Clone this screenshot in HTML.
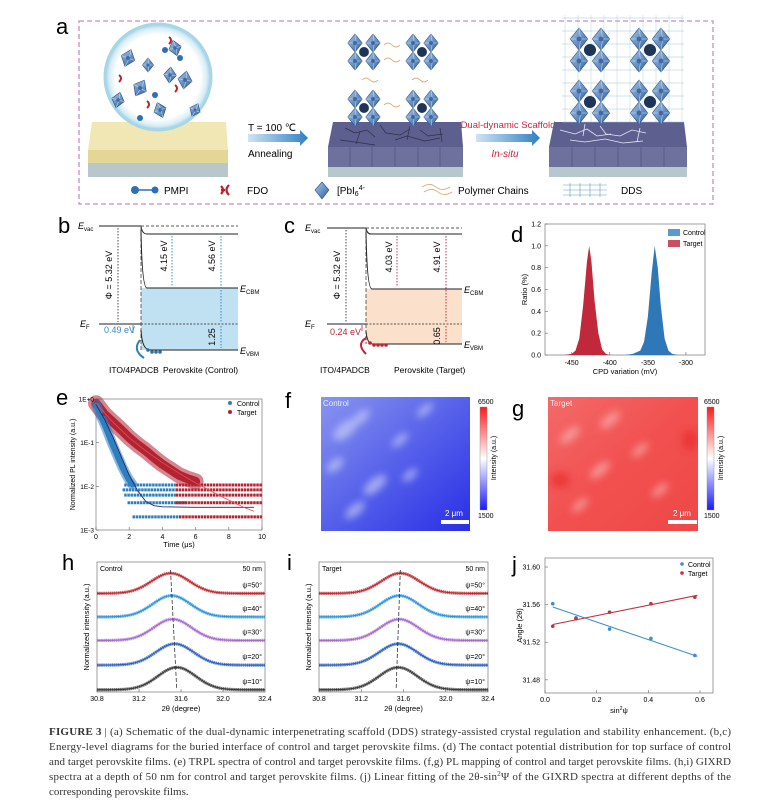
<!DOCTYPE html>
<html><head><meta charset="utf-8">
<style>
html,body{margin:0;padding:0;background:#fff;}
svg{display:block;font-family:"Liberation Sans",sans-serif;}
</style></head>
<body>
<svg id="fig" width="764" height="806" viewBox="0 0 764 806" xmlns="http://www.w3.org/2000/svg">
<defs>
<linearGradient id="arrowG" x1="0" x2="1"><stop offset="0" stop-color="#cfe3f4"/><stop offset="1" stop-color="#2f7fc4"/></linearGradient>
<radialGradient id="circG" cx="0.5" cy="0.5" r="0.5"><stop offset="0.8" stop-color="#ffffff"/><stop offset="0.92" stop-color="#d8eef6"/><stop offset="1" stop-color="#9fd0e4"/></radialGradient>
<linearGradient id="octG" x1="0" y1="0" x2="1" y2="1"><stop offset="0" stop-color="#a9c8ea"/><stop offset="1" stop-color="#2f5f9e"/></linearGradient>
<linearGradient id="cbar" x1="0" y1="1" x2="0" y2="0"><stop offset="0" stop-color="#1a1aff"/><stop offset="0.5" stop-color="#ffffff"/><stop offset="1" stop-color="#ff1a1a"/></linearGradient>
<linearGradient id="blueMap" x1="0" y1="0" x2="1" y2="1"><stop offset="0" stop-color="#8a95f0"/><stop offset="0.5" stop-color="#5560ea"/><stop offset="1" stop-color="#2a2ee6"/></linearGradient>
<linearGradient id="redMap" x1="0" y1="0" x2="1" y2="1"><stop offset="0" stop-color="#f36a6a"/><stop offset="0.5" stop-color="#f25050"/><stop offset="1" stop-color="#ee4848"/></linearGradient>
<filter id="blur4"><feGaussianBlur stdDeviation="4"/></filter>
<clipPath id="clipF"><rect x="321" y="397" width="149" height="134"/></clipPath>
<clipPath id="clipG"><rect x="548" y="397" width="150" height="134"/></clipPath>
</defs>

<g id="panelA">
<text x="56" y="34" font-size="22">a</text>
<rect x="79" y="21" width="634" height="183" fill="none" stroke="#c98cbf" stroke-width="1.3" stroke-dasharray="5,3"/>
<g>
<rect x="88" y="163" width="140" height="14" fill="#b7c7cc"/>
<polygon points="92,122 226,122 228,150 88,150" fill="#f1e7b5"/>
<rect x="88" y="150" width="140" height="13" fill="#e4d796"/>
</g>
<circle cx="158" cy="77" r="53" fill="url(#circG)" stroke="#a7d6e8" stroke-width="3"/>
<g id="circleContent"></g>
<text x="248" y="131" font-size="10">T = 100 ℃</text>
<polygon points="248,134 300,134 300,130 308,138 300,146 300,142 248,142" fill="url(#arrowG)"/>
<text x="248" y="157" font-size="10">Annealing</text>
<g>
<rect x="328" y="167" width="135" height="10" fill="#b7c7cc"/>
<polygon points="333,122 461,122 463,147 328,147" fill="#5d5f8e"/>
<rect x="328" y="147" width="135" height="20" fill="#6e719e"/>
<path d="M345,128 l10,5 l12,-3 l8,7 M380,125 l6,8 l14,2 l10,-6 M420,130 l8,6 l15,-2 M340,140 l15,2 l20,3 M395,140 l12,-4 l18,5 l15,-3 M360,132 l-4,12 M410,126 l-3,14 M440,128 l2,14" stroke="#2f2f4a" stroke-width="0.7" fill="none"/>
<path d="M350,147v20 M372,147v20 M395,147v20 M418,147v20 M440,147v20" stroke="#4b4d75" stroke-width="0.6"/>
</g>
<text x="508" y="128" font-size="9.5" fill="#d0263a" text-anchor="middle">Dual-dynamic Scaffold</text>
<polygon points="476,134 532,134 532,130 540,138 532,146 532,142 476,142" fill="url(#arrowG)"/>
<text x="505" y="157" font-size="10" fill="#d0263a" font-style="italic" text-anchor="middle">In-situ</text>
<g>
<rect x="549" y="167" width="138" height="10" fill="#b7c7cc"/>
<polygon points="554,122 684,122 687,147 549,147" fill="#5d5f8e"/>
<rect x="549" y="147" width="138" height="20" fill="#6e719e"/>
<path d="M560,130 l15,4 l12,-5 l10,7 l14,-2 M600,126 l6,8 l14,2 l12,-6 l14,3 M570,140 l15,2 l20,-3 l18,4 l20,-2 M640,128 l-3,14 M585,124 l-2,12" stroke="#e6e6ff" stroke-width="0.8" fill="none"/>
<path d="M572,147v20 M595,147v20 M618,147v20 M641,147v20 M664,147v20" stroke="#4b4d75" stroke-width="0.6"/>
</g>
<g id="crystals"></g>
<g>
<circle cx="135" cy="190" r="4" fill="#2c6fb5"/><line x1="138" y1="190" x2="152" y2="190" stroke="#2c6fb5" stroke-width="1.5"/><circle cx="155" cy="190" r="3.5" fill="#2c6fb5"/>
<text x="164" y="194" font-size="10">PMPI</text>
<path d="M221,186 q4,4 0,8 M221,190 h4 M229,185 q-5,5 0,10" stroke="#c0202a" stroke-width="2.2" fill="none"/>
<text x="247" y="194" font-size="10">FDO</text>
<polygon points="322,182 329,190 322,199 315,190" fill="url(#octG)" stroke="#2a4f80" stroke-width="0.6"/>
<text x="337" y="194" font-size="10">[PbI<tspan font-size="7" dy="2">6</tspan><tspan font-size="7" dy="-6">4-</tspan></text>
<path d="M422,187 q8,-5 14,0 t14,0 M424,192 q8,-5 14,0 t14,0" stroke="#d8a060" stroke-width="0.8" fill="none"/>
<text x="458" y="194" font-size="10">Polymer Chains</text>
<path d="M563,185 h44 M563,190 h44 M563,195 h44 M570,183 v14 M580,183 v14 M590,183 v14 M600,183 v14" stroke="#5aa0c0" stroke-width="0.6" fill="none"/>
<text x="621" y="194" font-size="10">DDS</text>
</g>
</g>

<g id="panelB">
<text x="58" y="233" font-size="22">b</text>
<rect x="141" y="288" width="97" height="62" fill="#bfe1f2"/>
<text x="78" y="229" font-size="9" font-style="italic">E<tspan font-size="6" dy="2" font-style="normal">vac</tspan></text>
<line x1="99" y1="226" x2="141" y2="226" stroke="#222" stroke-width="1"/>
<line x1="141" y1="226" x2="238" y2="226" stroke="#222" stroke-width="0.8" stroke-dasharray="3,2"/>
<path d="M141,226 q1,8 6,8 h91" stroke="#222" fill="none" stroke-width="1"/>
<line x1="141" y1="226" x2="141" y2="350" stroke="#444" stroke-width="0.8" stroke-dasharray="4,2"/>
<path d="M141,230 q1,58 6,58 h91" stroke="#222" fill="none" stroke-width="1"/>
<text x="240" y="292" font-size="9" font-style="italic">E<tspan font-size="6" dy="2" font-style="normal">CBM</tspan></text>
<text x="80" y="327" font-size="9" font-style="italic">E<tspan font-size="6" dy="2" font-style="normal">F</tspan></text>
<line x1="99" y1="324" x2="141" y2="324" stroke="#222" stroke-width="1"/>
<line x1="141" y1="324" x2="238" y2="324" stroke="#222" stroke-width="0.8" stroke-dasharray="2,1.5"/>
<path d="M141,330 q1,20 9,20 h88" stroke="#222" fill="none" stroke-width="1"/>
<text x="240" y="354" font-size="9" font-style="italic">E<tspan font-size="6" dy="2" font-style="normal">VBM</tspan></text>
<line x1="118" y1="228" x2="118" y2="322" stroke="#222" stroke-width="0.8" stroke-dasharray="1.5,1.5"/>
<text transform="translate(112,275) rotate(-90)" font-size="9" text-anchor="middle">Φ = 5.32 eV</text>
<line x1="172" y1="236" x2="172" y2="286" stroke="#2a7fc0" stroke-width="0.9" stroke-dasharray="1.5,1.5"/>
<text transform="translate(167,256) rotate(-90)" font-size="9" text-anchor="middle">4.15 eV</text>
<line x1="221" y1="236" x2="221" y2="322" stroke="#2a7fc0" stroke-width="0.9" stroke-dasharray="1.5,1.5"/>
<text transform="translate(215,256) rotate(-90)" font-size="9" text-anchor="middle">4.56 eV</text>
<line x1="221" y1="326" x2="221" y2="348" stroke="#2a7fc0" stroke-width="0.9" stroke-dasharray="1.5,1.5"/>
<text transform="translate(215,337) rotate(-90)" font-size="9" text-anchor="middle">1.25</text>
<text x="104" y="333" font-size="9" fill="#3a8ac8">0.49 eV</text>
<line x1="133" y1="325" x2="133" y2="333" stroke="#2a7fc0" stroke-width="0.8"/>
<path d="M140,340 q-8,10 4,18" stroke="#2a7fc0" stroke-width="2" fill="none"/>
<circle cx="148" cy="350" r="1.8" fill="#2a6fb0"/><circle cx="152" cy="352" r="1.8" fill="#2a6fb0"/><circle cx="156" cy="352" r="1.8" fill="#2a6fb0"/><circle cx="160" cy="352" r="1.8" fill="#2a6fb0"/>
<text x="109" y="373" font-size="8.5">ITO/4PADCB</text>
<text x="163" y="373" font-size="8.5">Perovskite (Control)</text>
</g>

<g id="panelC">
<text x="284" y="233" font-size="22">c</text>
<rect x="366" y="289" width="96" height="55" fill="#fbe0cc"/>
<text x="305" y="231" font-size="9" font-style="italic">E<tspan font-size="6" dy="2" font-style="normal">vac</tspan></text>
<line x1="327" y1="228" x2="366" y2="228" stroke="#222" stroke-width="1"/>
<line x1="366" y1="228" x2="462" y2="228" stroke="#222" stroke-width="0.8" stroke-dasharray="3,2"/>
<path d="M366,228 q1,6 5,6 h91" stroke="#222" fill="none" stroke-width="1"/>
<line x1="366" y1="228" x2="366" y2="344" stroke="#444" stroke-width="0.8" stroke-dasharray="4,2"/>
<path d="M366,232 q1,57 6,57 h90" stroke="#222" fill="none" stroke-width="1"/>
<text x="464" y="293" font-size="9" font-style="italic">E<tspan font-size="6" dy="2" font-style="normal">CBM</tspan></text>
<text x="305" y="327" font-size="9" font-style="italic">E<tspan font-size="6" dy="2" font-style="normal">F</tspan></text>
<line x1="327" y1="324" x2="366" y2="324" stroke="#222" stroke-width="1"/>
<line x1="366" y1="324" x2="462" y2="324" stroke="#222" stroke-width="0.8" stroke-dasharray="2,1.5"/>
<path d="M366,331 q1,13 7,13 h89" stroke="#222" fill="none" stroke-width="1"/>
<text x="464" y="348" font-size="9" font-style="italic">E<tspan font-size="6" dy="2" font-style="normal">VBM</tspan></text>
<line x1="346" y1="230" x2="346" y2="322" stroke="#222" stroke-width="0.8" stroke-dasharray="1.5,1.5"/>
<text transform="translate(340,275) rotate(-90)" font-size="9" text-anchor="middle">Φ = 5.32 eV</text>
<line x1="397" y1="236" x2="397" y2="287" stroke="#c02035" stroke-width="0.9" stroke-dasharray="1.5,1.5"/>
<text transform="translate(392,257) rotate(-90)" font-size="9" text-anchor="middle">4.03 eV</text>
<line x1="446" y1="236" x2="446" y2="322" stroke="#c02035" stroke-width="0.9" stroke-dasharray="1.5,1.5"/>
<text transform="translate(440,257) rotate(-90)" font-size="9" text-anchor="middle">4.91 eV</text>
<line x1="446" y1="326" x2="446" y2="342" stroke="#c02035" stroke-width="0.9" stroke-dasharray="1.5,1.5"/>
<text transform="translate(440,336) rotate(-90)" font-size="9" text-anchor="middle">0.65</text>
<text x="330" y="335" font-size="9" fill="#c02035">0.24 eV</text>
<line x1="362" y1="325" x2="362" y2="331" stroke="#c02035" stroke-width="0.8"/>
<path d="M366,338 q-10,6 0,16" stroke="#c02035" stroke-width="2" fill="none"/>
<circle cx="370" cy="343" r="1.8" fill="#c02035"/><circle cx="374" cy="345" r="1.8" fill="#c02035"/><circle cx="378" cy="345" r="1.8" fill="#c02035"/><circle cx="382" cy="345" r="1.8" fill="#c02035"/><circle cx="386" cy="345" r="1.8" fill="#c02035"/>
<text x="320" y="373" font-size="8.5">ITO/4PADCB</text>
<text x="394" y="373" font-size="8.5">Perovskite (Target)</text>
</g>

<g id="panelD">
<text x="511" y="242" font-size="22">d</text>
<g id="dPlot"></g>
</g>

<g id="panelE">
<text x="56" y="405" font-size="22">e</text>
<g id="ePlot"></g>
</g>

<g id="panelF">
<text x="285" y="408" font-size="22">f</text>
<g clip-path="url(#clipF)">
<rect x="321" y="397" width="149" height="134" fill="url(#blueMap)"/>
<g filter="url(#blur4)" fill="#c8ccf6" opacity="0.7">
<ellipse cx="345" cy="430" rx="14" ry="7" transform="rotate(-40 345 430)"/>
<ellipse cx="360" cy="418" rx="12" ry="5" transform="rotate(-40 360 418)"/>
<ellipse cx="335" cy="465" rx="10" ry="5" transform="rotate(-40 335 465)"/>
<ellipse cx="375" cy="485" rx="14" ry="6" transform="rotate(-40 375 485)"/>
<ellipse cx="400" cy="440" rx="10" ry="4" transform="rotate(-40 400 440)"/>
<ellipse cx="355" cy="510" rx="12" ry="5" transform="rotate(-40 355 510)"/>
<ellipse cx="425" cy="410" rx="10" ry="4" transform="rotate(-40 425 410)"/>
<ellipse cx="410" cy="475" rx="9" ry="4" transform="rotate(-40 410 475)"/>
</g>
</g>
<text x="323" y="406" font-size="8" fill="#e8ecff">Control</text>
<text x="445" y="516" font-size="8" fill="#fff">2 μm</text>
<rect x="441" y="520" width="28" height="4" fill="#fff"/>
<rect x="480" y="407" width="7" height="103" fill="url(#cbar)" stroke="#888" stroke-width="0.4"/>
<text x="478" y="404" font-size="7">6500</text>
<text x="478" y="518" font-size="7">1500</text>
<text transform="translate(496,458) rotate(-90)" font-size="7" text-anchor="middle">Intensity (a.u.)</text>
</g>
<g id="panelG">
<text x="512" y="416" font-size="22">g</text>
<g clip-path="url(#clipG)">
<rect x="548" y="397" width="150" height="134" fill="url(#redMap)"/>
<g filter="url(#blur4)" fill="#f8b0b0" opacity="0.7">
<ellipse cx="570" cy="435" rx="12" ry="5" transform="rotate(-40 570 435)"/>
<ellipse cx="610" cy="420" rx="12" ry="5" transform="rotate(-40 610 420)"/>
<ellipse cx="640" cy="450" rx="10" ry="4" transform="rotate(-40 640 450)"/>
<ellipse cx="600" cy="470" rx="12" ry="5" transform="rotate(-40 600 470)"/>
<ellipse cx="660" cy="490" rx="10" ry="4" transform="rotate(-40 660 490)"/>
<ellipse cx="580" cy="505" rx="10" ry="4" transform="rotate(-40 580 505)"/>
</g>
<g filter="url(#blur4)" fill="#e82828" opacity="0.6">
<ellipse cx="560" cy="480" rx="10" ry="8"/>
<ellipse cx="690" cy="440" rx="8" ry="10"/>
</g>
</g>
<text x="550" y="406" font-size="8" fill="#ffe8e8">Target</text>
<text x="673" y="516" font-size="8" fill="#fff">2 μm</text>
<rect x="668" y="520" width="29" height="4" fill="#fff"/>
<rect x="707" y="407" width="7" height="103" fill="url(#cbar)" stroke="#888" stroke-width="0.4"/>
<text x="704" y="404" font-size="7">6500</text>
<text x="704" y="518" font-size="7">1500</text>
<text transform="translate(723,458) rotate(-90)" font-size="7" text-anchor="middle">Intensity (a.u.)</text>
</g>

<g id="panelH">
<text x="62" y="570" font-size="22">h</text>
<g id="hPlot"></g>
</g>
<g id="panelI">
<text x="287" y="570" font-size="22">i</text>
<g id="iPlot"></g>
</g>
<g id="panelJ">
<text x="512" y="572" font-size="22">j</text>
<g id="jPlot"></g>
</g>

<g font-family="'Liberation Serif',serif" font-size="11" fill="#333">
<text x="49" y="735" textLength="682" lengthAdjust="spacing"><tspan font-weight="bold">FIGURE 3</tspan>  |  (a) Schematic of the dual-dynamic interpenetrating scaffold (DDS) strategy-assisted crystal regulation and stability enhancement. (b,c)</text>
<text x="49" y="750" textLength="682" lengthAdjust="spacing">Energy-level diagrams for the buried interface of control and target perovskite films. (d) The contact potential distribution for top surface of control</text>
<text x="49" y="765" textLength="682" lengthAdjust="spacing">and target perovskite films. (e) TRPL spectra of control and target perovskite films. (f,g) PL mapping of control and target perovskite films. (h,i) GIXRD</text>
<text x="49" y="780" textLength="682" lengthAdjust="spacing">spectra at a depth of 50 nm for control and target perovskite films. (j) Linear fitting of the 2θ-sin<tspan font-size="7" dy="-4">2</tspan><tspan dy="4">Ψ of the GIXRD spectra at different depths of the</tspan></text>
<text x="49" y="795">corresponding perovskite films.</text>
</g>
</svg>

<script>
const cpdX = [-470,-460,-450,-445,-440,-435,-430,-427,-424,-420,-415,-410,-405,-400,-390];
const cpdTarget = [0,0,0.01,0.04,0.15,0.45,0.85,1.0,0.85,0.5,0.2,0.05,0.01,0,0];
const cpdX2 = [-380,-370,-360,-355,-350,-345,-341,-337,-333,-328,-323,-318,-310];
const cpdControl = [0,0.01,0.04,0.12,0.35,0.75,1.0,0.8,0.45,0.15,0.04,0.01,0];
const dYTicks = [0.0,0.2,0.4,0.6,0.8,1.0,1.2];
const dXTicks = [-450,-400,-350,-300];

const tCtrl = [0,0.2,0.4,0.6,0.8,1.0,1.2,1.4,1.6,1.8,2.0,2.2];
const iCtrl = [0.75,0.5,0.33,0.22,0.14,0.09,0.06,0.04,0.027,0.019,0.014,0.011];
const tTarg = [0,0.5,1.0,1.5,2.0,2.5,3.0,3.5,4.0,4.5,5.0,5.5,6.0];
const iTarg = [0.8,0.45,0.3,0.2,0.13,0.09,0.065,0.045,0.032,0.024,0.018,0.015,0.013];
const bandLevels = [0.0107,0.0083,0.0063,0.0042,0.002];
const bandCtrlStart = [1.7,1.6,1.7,1.9,2.2];
const bandCtrlEnd = [4.8,4.8,4.8,5.5,5.0];
const bandTargStart = [4.8,4.8,4.8,4.8,5.0];
const bandTargEnd = [10,10,10,10,10];
const fitCtrlT = [0,0.5,1.0,1.5,2.0,2.5,3.0,3.5,4.0,6.0,9.5];
const fitCtrlI = [0.75,0.35,0.14,0.05,0.018,0.008,0.0045,0.0036,0.0034,0.0033,0.0033];
const fitTargT = [0,1,2,3,4,5,6,7,8,9,9.5];
const fitTargI = [0.8,0.3,0.13,0.065,0.035,0.02,0.012,0.0075,0.0048,0.0032,0.0027];
const eXTicks = [0,2,4,6,8,10];
const eYTicks = ["1E+0","1E-1","1E-2","1E-3"];

const psiLabels = ["ψ=10°","ψ=20°","ψ=30°","ψ=40°","ψ=50°"];
const psiColors = ["#3b3b3b","#2b5fc0","#a56ad0","#2b93dc","#c0282e"];
const peakCtrl = [31.56,31.54,31.52,31.51,31.50];
const peakTarg = [31.55,31.55,31.56,31.56,31.57];
const peakOffsets = [0.1,1.2,2.3,3.35,4.4];
const peakHeights = [1.0,0.95,0.95,0.95,0.9];
const peakWidth = 0.18;
const hXTicks = [30.8,31.2,31.6,32.0,32.4];

const jSin = [0.03,0.12,0.25,0.41,0.58];
const jCtrl = [31.561,31.546,31.534,31.524,31.506];
const jTarg = [31.537,31.545,31.552,31.561,31.568];
const jYTicks = [31.48,31.52,31.56,31.60];
const jXTicks = [0.0,0.2,0.4,0.6];

const NS = "http://www.w3.org/2000/svg";
function mk(tag, attrs, parent){ const e=document.createElementNS(NS,tag); for(const k in attrs) e.setAttribute(k,attrs[k]); parent.appendChild(e); return e; }
function txt(parent,x,y,s,size,anchor,extra){ const t=mk('text',Object.assign({x:x,y:y,'font-size':size,'text-anchor':anchor||'start'},extra||{}),parent); t.textContent=s; return t; }

function octa(parent,cx,cy,s,rot){
  const g=mk('g',{transform:`translate(${cx},${cy}) rotate(${rot||0})`},parent);
  mk('polygon',{points:`0,${-s} ${s*0.8},0 0,${s} ${-s*0.8},0`,fill:'url(#octG)',stroke:'#264b7c','stroke-width':0.6},g);
  mk('path',{d:`M0,${-s} L${s*0.15},0 L0,${s} M${-s*0.8},0 L${s*0.8},0`,stroke:'#cfe0f5','stroke-width':0.5,fill:'none'},g);
  mk('circle',{cx:0,cy:0,r:s*0.22,fill:'#3d6aa5'},g);
}
function cluster(parent,cx,cy,s){
  octa(parent,cx-s,cy-s,s); octa(parent,cx+s,cy-s,s); octa(parent,cx-s,cy+s,s); octa(parent,cx+s,cy+s,s);
  mk('circle',{cx:cx,cy:cy,r:s*0.55,fill:'#1f3557'},parent);
}
const cc=document.getElementById('circleContent');
[[128,58,9,20],[175,48,8,-15],[140,88,9,30],[185,80,9,10],[160,110,8,-20],[118,100,8,15],[148,65,7,0],[195,110,7,25],[170,75,8,5]].forEach(p=>octa(cc,p[0],p[1],p[2],p[3]));
[[165,50],[155,95],[140,118],[180,58]].forEach(p=>{mk('circle',{cx:p[0],cy:p[1],r:3,fill:'#2c6fb5'},cc);});
[[172,40],[178,88],[150,104],[122,78]].forEach(p=>{mk('path',{d:`M${p[0]-3},${p[1]-3} q4,3 0,7`,stroke:'#c0202a','stroke-width':2,fill:'none'},cc);});
const cr=document.getElementById('crystals');
cluster(cr,364,52,9); cluster(cr,422,52,9); cluster(cr,364,108,9); cluster(cr,422,108,9);
[[392,45],[392,60],[370,80],[420,80],[392,105]].forEach(p=>{mk('path',{d:`M${p[0]-8},${p[1]} q4,-4 8,0 t8,0`,stroke:'#d8a060','stroke-width':0.8,fill:'none'},cr);});
for(let k=0;k<9;k++){ mk('line',{x1:562,y1:18+k*13,x2:684,y2:18+k*13,stroke:'#9cc8d8','stroke-width':0.5},cr); }
for(let k=0;k<10;k++){ mk('line',{x1:565+k*13,y1:15,x2:565+k*13,y2:122,stroke:'#9cc8d8','stroke-width':0.4},cr); }
cluster(cr,590,50,11); cluster(cr,650,50,11); cluster(cr,590,102,11); cluster(cr,650,102,11);

(function(){
  const g=document.getElementById('dPlot');
  const L=545,R=705,T=224,B=355;
  const xs=v=>L+(v-(-485))/((-275)-(-485))*(R-L);
  const ys=v=>B-v/1.2*(B-T);
  mk('rect',{x:L,y:T,width:R-L,height:B-T,fill:'none',stroke:'#888','stroke-width':0.8},g);
  const mkArea=(xa,ya,col,name)=>{
    let d=`M${xs(xa[0])},${ys(0)}`; xa.forEach((x,i)=>{d+=` L${xs(x)},${ys(ya[i])}`;}); d+=` L${xs(xa[xa.length-1])},${ys(0)} Z`;
    const p=mk('path',{d:d,fill:col},g);
    
    
  };
  mkArea(cpdX,cpdTarget,'#c0283c','target-cpd-distribution');
  mkArea(cpdX2,cpdControl,'#2f78b8','control-cpd-distribution');
  dYTicks.forEach(v=>{ mk('line',{x1:L,y1:ys(v),x2:L+3,y2:ys(v),stroke:'#666','stroke-width':0.6},g); txt(g,L-4,ys(v)+2.5,v.toFixed(1),7,'end'); });
  dXTicks.forEach(v=>{ mk('line',{x1:xs(v),y1:B,x2:xs(v),y2:B-3,stroke:'#666','stroke-width':0.6},g); txt(g,xs(v),B+10,String(v),7,'middle'); });
  txt(g,(L+R)/2,B+19,'CPD variation (mV)',7.5,'middle');
  const yl=txt(g,0,0,'Ratio (%)',7.5,'middle'); yl.setAttribute('transform',`translate(${L-18},${(T+B)/2}) rotate(-90)`);
  mk('rect',{x:668,y:229,width:12,height:7,fill:'#5a9ad0'},g); txt(g,683,235,'Control',7,'start');
  mk('rect',{x:668,y:240,width:12,height:7,fill:'#c8505e'},g); txt(g,683,246,'Target',7,'start');
})();

(function(){
  const g=document.getElementById('ePlot');
  const L=96,R=262,T=399,B=530;
  const xs=v=>L+v/10*(R-L);
  const ys=v=>T+(-Math.log10(v))/3*(B-T);
  mk('rect',{x:L,y:T,width:R-L,height:B-T,fill:'none',stroke:'#888','stroke-width':0.8},g);
  const blue='#2f7fbf', red='#b42331';
  bandLevels.forEach((lv,i)=>{
    const bl=mk('line',{x1:xs(bandCtrlStart[i]),y1:ys(lv),x2:xs(bandCtrlEnd[i]),y2:ys(lv),stroke:blue,'stroke-width':3,'stroke-dasharray':'2.5,0.6'},g);
    
    
    const rl=mk('line',{x1:xs(bandTargStart[i]),y1:ys(lv),x2:xs(bandTargEnd[i]),y2:ys(lv),stroke:red,'stroke-width':3,'stroke-dasharray':'2.5,0.6'},g);
    
    
  });
  const poly=(ta,ia,col,w,name,op)=>{ const p=mk('polyline',{points:ta.map((t,i)=>`${xs(t)},${ys(ia[i])}`).join(' '),fill:'none',stroke:col,'stroke-width':w,'stroke-linejoin':'round','stroke-linecap':'round','stroke-opacity':op||1},g);   };
  poly(tTarg,iTarg,red,16,'target-decay-scatter',0.55);
  poly(tTarg,iTarg,red,9,'target-decay-points');
  poly(tCtrl,iCtrl,blue,10,'control-decay-scatter',0.55);
  poly(tCtrl,iCtrl,blue,6,'control-decay-points');
  tTarg.forEach((t,i)=>{ const c=mk('circle',{cx:xs(t),cy:ys(iTarg[i]),r:2,fill:red},g);   });
  tCtrl.forEach((t,i)=>{ const c=mk('circle',{cx:xs(t),cy:ys(iCtrl[i]),r:2,fill:blue},g);   });
  poly(fitCtrlT,fitCtrlI,'#1c2a6e',0.9,'control-fit-line');
  poly(fitTargT,fitTargI,'#e0505a',0.8,'target-fit-line');
  eXTicks.forEach(v=>{ mk('line',{x1:xs(v),y1:B,x2:xs(v),y2:B-3,stroke:'#666','stroke-width':0.6},g); txt(g,xs(v),B+9,String(v),7,'middle'); });
  eYTicks.forEach((s,i)=>{ const y=T+i*(B-T)/3; mk('line',{x1:L,y1:y,x2:L+3,y2:y,stroke:'#666','stroke-width':0.6},g); txt(g,L-2,y+2.5,s,6.5,'end'); });
  txt(g,(L+R)/2,B+17,'Time (μs)',7.5,'middle');
  const yl=txt(g,0,0,'Normalized PL intensity (a.u.)',7,'middle'); yl.setAttribute('transform',`translate(${L-21},${(T+B)/2}) rotate(-90)`);
  mk('circle',{cx:230,cy:403,r:2,fill:blue},g); txt(g,237,406,'Control',7,'start');
  mk('circle',{cx:230,cy:412,r:2,fill:red},g); txt(g,237,415,'Target',7,'start');
})();

function gixrd(id,L,R,peaks,title,dashTop,dashBot){
  const g=document.getElementById(id);
  const T=562,B=692;
  const xs=v=>L+(v-30.8)/1.6*(R-L);
  const ys=v=>B-v/5.8*(B-T);
  mk('rect',{x:L,y:T,width:R-L,height:B-T,fill:'none',stroke:'#888','stroke-width':0.8},g);
  peaks.forEach((c,i)=>{
    let pts=[];
    for(let k=0;k<=80;k++){ const x=30.8+1.6*k/80; const v=peakOffsets[i]+peakHeights[i]*Math.exp(-Math.pow(x-c,2)/(2*peakWidth*peakWidth)); pts.push(`${xs(x)},${ys(v)}`); }
    const p1=mk('polyline',{points:pts.join(' '),fill:'none',stroke:psiColors[i],'stroke-width':3.2,'stroke-dasharray':'1.6,0.5','stroke-opacity':0.75},g);
    
    
    const p2=mk('polyline',{points:pts.join(' '),fill:'none',stroke:psiColors[i],'stroke-width':1.2},g);
    
    
    txt(g,R-3,ys(peakOffsets[i])-6,psiLabels[i],7,'end');
  });
  mk('line',{x1:xs(dashTop),y1:T+8,x2:xs(dashBot),y2:B-2,stroke:'#333','stroke-width':0.8,'stroke-dasharray':'4,2'},g);
  hXTicks.forEach(v=>{ mk('line',{x1:xs(v),y1:B,x2:xs(v),y2:B-3,stroke:'#666','stroke-width':0.6},g); txt(g,xs(v),B+9,v.toFixed(1),7,'middle'); });
  txt(g,(L+R)/2,B+19,'2θ (degree)',7.5,'middle');
  const yl=txt(g,0,0,'Normalized intensity (a.u.)',7.5,'middle'); yl.setAttribute('transform',`translate(${L-8},${(T+B)/2}) rotate(-90)`);
  txt(g,L+3,T+9,title,7,'start'); txt(g,R-3,T+9,'50 nm',7,'end');
}
gixrd('hPlot',97,265,peakCtrl,'Control',31.50,31.56);
gixrd('iPlot',319,488,peakTarg,'Target',31.57,31.53);

(function(){
  const g=document.getElementById('jPlot');
  const L=545,R=713,T=558,B=693;
  const xs=v=>L+v/0.6*(700-L);
  const ys=v=>B-(v-31.466)/(31.6096-31.466)*(B-T);
  mk('rect',{x:L,y:T,width:R-L,height:B-T,fill:'none',stroke:'#888','stroke-width':0.8},g);
  const fit=(xa,ya)=>{ const n=xa.length; const mx=xa.reduce((a,b)=>a+b)/n, my=ya.reduce((a,b)=>a+b)/n; let sxy=0,sxx=0; xa.forEach((x,i)=>{sxy+=(x-mx)*(ya[i]-my); sxx+=(x-mx)*(x-mx);}); const b=sxy/sxx; return [b,my-b*mx]; };
  [[jCtrl,'#3c8fd0','control'],[jTarg,'#c0323c','target']].forEach(([ya,col,nm])=>{
    const [b,a]=fit(jSin,ya);
    const ln=mk('line',{x1:xs(0.03),y1:ys(a+b*0.03),x2:xs(0.59),y2:ys(a+b*0.59),stroke:col,'stroke-width':1.1},g);
    
    
    jSin.forEach((x,i)=>{ const c=mk('circle',{cx:xs(x),cy:ys(ya[i]),r:1.8,fill:col},g);   });
  });
  jYTicks.forEach(v=>{ mk('line',{x1:L,y1:ys(v),x2:L+3,y2:ys(v),stroke:'#666','stroke-width':0.6},g); txt(g,L-5,ys(v)+2.5,v.toFixed(2),7,'end'); });
  jXTicks.forEach(v=>{ mk('line',{x1:xs(v),y1:B,x2:xs(v),y2:B-3,stroke:'#666','stroke-width':0.6},g); txt(g,xs(v),B+9,v.toFixed(1),7,'middle'); });
  const xl=txt(g,(L+R)/2-10,B+20,'sin',7.5,'middle'); const ts=mk('tspan',{'font-size':5,dy:-3},xl); ts.textContent='2'; const ts2=mk('tspan',{dy:3},xl); ts2.textContent='ψ';
  const yl=txt(g,0,0,'Angle (2θ)',7.5,'middle'); yl.setAttribute('transform',`translate(${L-23},${(T+B)/2}) rotate(-90)`);
  mk('circle',{cx:682,cy:564,r:1.8,fill:'#3c8fd0'},g); txt(g,688,567,'Control',7,'start');
  mk('circle',{cx:682,cy:573,r:1.8,fill:'#c0323c'},g); txt(g,688,576,'Target',7,'start');
})();
</script>
</body></html>
